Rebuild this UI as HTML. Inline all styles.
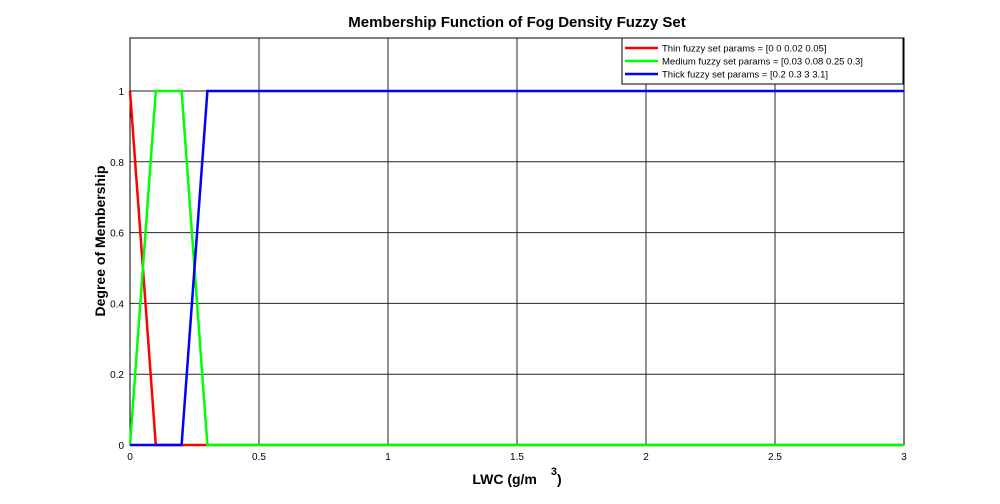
<!DOCTYPE html>
<html><head><meta charset="utf-8"><style>
body{margin:0;background:#fff;}
svg text{font-family:"Liberation Sans",sans-serif;}
</style></head><body>
<svg id="chart" width="1000" height="499" xmlns="http://www.w3.org/2000/svg">
<rect x="0" y="0" width="1000" height="499" fill="#fff"/>
<text x="517" y="27" text-anchor="middle" font-size="15" font-weight="bold">Membership Function of Fog Density Fuzzy Set</text>
<g id="grid"></g>
<rect x="130" y="38" width="774" height="407" fill="none" stroke="#000" stroke-width="1"/>
<g id="series"></g>
<g id="ticks"></g>
<text x="517" y="484" text-anchor="middle" font-size="14" font-weight="bold">LWC (g/m<tspan dx="14" dy="-9" font-size="11">3</tspan><tspan dy="9">)</tspan></text>
<text transform="translate(105,241) rotate(-90)" text-anchor="middle" font-size="14" font-weight="bold">Degree of Membership</text>
<g>
<rect x="622" y="38" width="281" height="46" fill="#fff" stroke="#000" stroke-width="1"/>
<g id="legend-items"></g>
</g>
</svg>
<script>
const xTicks=[0,0.5,1,1.5,2,2.5,3];
const xTickLabels=["0","0.5","1","1.5","2","2.5","3"];
const yTicks=[0,0.2,0.4,0.6,0.8,1];
const yTickLabels=["0","0.2","0.4","0.6","0.8","1"];
const seriesNames=["Thin fuzzy set params = [0 0 0.02 0.05]","Medium fuzzy set params = [0.03 0.08 0.25 0.3]","Thick fuzzy set params = [0.2 0.3 3 3.1]"];
const seriesColors=["#ff0000","#00ff00","#0000ff"];
const thinX=[0,0.1,3];
const thinY=[1,0,0];
const mediumX=[0,0.1,0.2,0.3,3];
const mediumY=[0,1,1,0,0];
const thickX=[0,0.2,0.3,3];
const thickY=[0,0,1,1];
const xs=v=>130+v*(774/3);
const ys=v=>445-v*354;
const NS="http://www.w3.org/2000/svg";
function mk(t,a,p){const e=document.createElementNS(NS,t);for(const k in a)e.setAttribute(k,a[k]);p.appendChild(e);return e;}
const grid=document.getElementById('grid'),ticks=document.getElementById('ticks');
xTicks.forEach((v,i)=>{
  const l=mk('line',{x1:xs(v),x2:xs(v),y1:38,y2:445,stroke:'#262626','stroke-width':1},grid);
  
  
  const t=mk('text',{x:xs(v),y:460,'text-anchor':'middle','font-size':10},ticks);
  t.textContent=xTickLabels[i];
  
  
});
yTicks.forEach((v,i)=>{
  const l=mk('line',{x1:130,x2:904,y1:ys(v),y2:ys(v),stroke:'#262626','stroke-width':1},grid);
  
  
  const t=mk('text',{x:124,y:ys(v)+4,'text-anchor':'end','font-size':10},ticks);
  t.textContent=yTickLabels[i];
  
  
});
const ser=document.getElementById('series');
const data=[[thinX,thinY],[mediumX,mediumY],[thickX,thickY]];
const snames=['thin-series-line','medium-series-line','thick-series-line'];
data.forEach((d,i)=>{
  const pts=d[0].map((x,j)=>xs(x)+','+ys(d[1][j])).join(' ');
  const p=mk('polyline',{points:pts,fill:'none',stroke:seriesColors[i],'stroke-width':2.5},ser);
  
  
});
const lg=document.getElementById('legend-items');
seriesNames.forEach((n,i)=>{
  const y=48+i*13;
  const l=mk('line',{x1:625,x2:658,y1:y,y2:y,stroke:seriesColors[i],'stroke-width':2.5},lg);
  
  
  const t=mk('text',{x:662,y:y+3.5,'font-size':9.5},lg);
  t.textContent=n;
  
  
});
</script>
</body></html>
